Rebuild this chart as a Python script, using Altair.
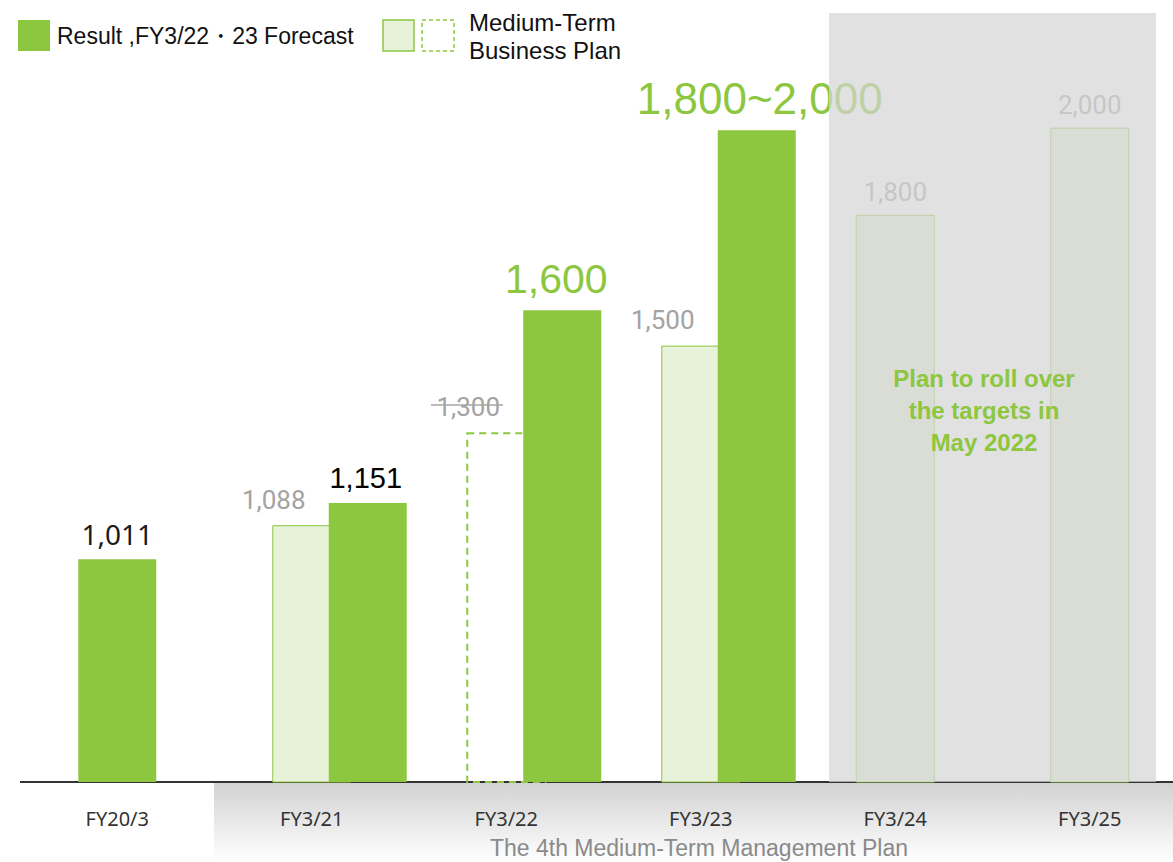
import altair as alt
import pandas as pd

# ---- data ----
categories = ["FY20/3", "FY3/21", "FY3/22", "FY3/23", "FY3/24", "FY3/25"]

result_cats = ["FY20/3", "FY3/21", "FY3/22", "FY3/23"]
result_values = [1011, 1140, 1582, 1995]
result_labels = ["1,011", "1,151", "1,600", "1,800~2,000"]

plan_cats = ["FY3/21", "FY3/22", "FY3/23", "FY3/24", "FY3/25"]
plan_values = [1088, 1300, 1500, 1800, 2000]
plan_labels = ["1,088", "1,300", "1,500", "1,800", "2,000"]
plan_kind = ["paired", "dashed", "paired", "alone", "alone"]

res = pd.DataFrame({"cat": result_cats, "v": result_values, "label": result_labels})
plan = pd.DataFrame({"cat": plan_cats, "v": plan_values, "label": plan_labels, "kind": plan_kind})

GREEN = "#8dc63f"
LIGHT = "#e8f2d9"
GRAY_TXT = "#a3a3a3"

xscale = alt.Scale(domain=categories, range=[20, 1187], paddingInner=0, paddingOuter=0)
X = alt.X("cat:N", sort=categories, scale=xscale,
          axis=alt.Axis(title=None, ticks=False, tickSize=0, labelAngle=0,
                        labelFont="Noto Sans", labelFontSize=20, labelColor="#333333",
                        labelBaseline="alphabetic", labelPadding=43,
                        domain=False, grid=False, zindex=1))
yscale = alt.Scale(domain=[500, 2294], zero=False, nice=False)
Y = alt.Y("v:Q", scale=yscale, axis=None)
Y2 = alt.datum(500)

one = alt.Data(values=[{}])

# bottom gradient band
band = alt.Chart(one).mark_rect(
    fill=alt.LinearGradient(gradient="linear",
                            stops=[alt.GradientStop(color="#d2d2d2", offset=0),
                                   alt.GradientStop(color="#ffffff", offset=1)],
                            x1=0, x2=0, y1=0, y2=1)
).encode(x=alt.value(214), x2=alt.value(1173), y=alt.value(783), y2=alt.value(862))

baseline = alt.Chart(one).mark_rule(color="#333333", strokeWidth=2).encode(
    x=alt.value(20), x2=alt.value(1173), y=alt.value(782))

base_plan = alt.Chart(plan)
plan_solid = base_plan.transform_filter("datum.kind != 'dashed'").mark_bar(
    size=78, fill=LIGHT, stroke=GREEN, strokeWidth=1
).encode(x=X, y=Y, y2=Y2)
plan_dash = base_plan.transform_filter("datum.kind == 'dashed'").mark_bar(
    size=78, fill="white", fillOpacity=0, stroke=GREEN, strokeWidth=2, strokeDash=[7, 5]
).encode(x=X, y=Y, y2=Y2)

base_res = alt.Chart(res)
res_first = base_res.transform_filter("datum.cat == 'FY20/3'").mark_bar(
    size=78, color=GREEN).encode(x=X, y=Y, y2=Y2)
res_pair = base_res.transform_filter("datum.cat != 'FY20/3'").mark_bar(
    size=78, color=GREEN, xOffset=56).encode(x=X, y=Y, y2=Y2)

def lab(chart, **kw):
    return chart.mark_text(baseline="alphabetic", align="center", **kw).encode(
        x=X, y=Y, text="label:N")

t1011 = lab(base_res.transform_filter("datum.cat == 'FY20/3'"),
            font="Noto Sans", fontSize=28, color="#1a1a1a", dy=-14)
t1151 = lab(base_res.transform_filter("datum.cat == 'FY3/21'"),
            font="Arial", fontSize=29, color="#000000", dy=-15, dx=54)
t1600 = lab(base_res.transform_filter("datum.cat == 'FY3/22'"),
            font="Arial", fontSize=41, color=GREEN, dy=-17, dx=50)
t2000 = lab(base_res.transform_filter("datum.cat == 'FY3/23'"),
            font="Arial", fontSize=44, color=GREEN, dy=-16, dx=59)

tplan_pair = lab(base_plan.transform_filter("datum.kind != 'alone'"),
                 font="Roboto", fontSize=26, color=GRAY_TXT, dy=-17, dx=-38)
tplan_alone = lab(base_plan.transform_filter("datum.kind == 'alone'"),
                  font="Roboto", fontSize=26, color=GRAY_TXT, dy=-14)

strike = alt.Chart(one).mark_rule(color="#a6a6a6", strokeWidth=1.5).encode(
    x=alt.value(431), x2=alt.value(503), y=alt.value(405))

overlay = alt.Chart(one).mark_rect(fill="#d4d4d4", opacity=0.7).encode(
    x=alt.value(829), x2=alt.value(1156), y=alt.value(13), y2=alt.value(782))

overlay_txt = alt.Chart(one).mark_text(
    font="Arial", fontSize=24, fontWeight="bold", color=GREEN, align="center",
    baseline="alphabetic", lineHeight=32
).encode(x=alt.value(984), y=alt.value(387),
         text=alt.value(["Plan to roll over", "the targets in", "May 2022"]))

# legend
leg_green = alt.Chart(one).mark_rect(fill=GREEN).encode(
    x=alt.value(18), x2=alt.value(50), y=alt.value(20), y2=alt.value(51))
leg_light = alt.Chart(one).mark_rect(fill=LIGHT, stroke=GREEN, strokeWidth=1.5).encode(
    x=alt.value(383), x2=alt.value(414), y=alt.value(20), y2=alt.value(51))
leg_dash = alt.Chart(one).mark_rect(fill="white", stroke=GREEN, strokeWidth=1.5,
                                    strokeDash=[4, 3]).encode(
    x=alt.value(422), x2=alt.value(454), y=alt.value(20), y2=alt.value(51))
leg_t1 = alt.Chart(one).mark_text(font="Arial", fontSize=23, color="#111111",
                                  align="left", baseline="alphabetic").encode(
    x=alt.value(57), y=alt.value(44), text=alt.value("Result ,FY3/22・23 Forecast"))
leg_t2 = alt.Chart(one).mark_text(font="Arial", fontSize=24, color="#111111",
                                  align="left", baseline="alphabetic", lineHeight=28).encode(
    x=alt.value(469), y=alt.value(31), text=alt.value(["Medium-Term", "Business Plan"]))

bottom_txt = alt.Chart(one).mark_text(font="Arial", fontSize=23, color="#8a8a8a",
                                      align="center", baseline="alphabetic").encode(
    x=alt.value(699), y=alt.value(856), text=alt.value("The 4th Medium-Term Management Plan"))

chart = alt.layer(
    band, baseline, plan_solid, plan_dash, res_first, res_pair,
    t1011, t1151, t1600, t2000, tplan_pair, tplan_alone, strike,
    overlay, overlay_txt,
    leg_green, leg_light, leg_dash, leg_t1, leg_t2, bottom_txt
).properties(
    width=1173, height=782,
    autosize=alt.AutoSizeParams(type="none"),
    padding={"left": 0, "top": 0, "right": 0, "bottom": 80},
    background="white"
).configure_view(stroke=None)

chart.save("out.html", embed_options={"renderer": "svg", "actions": False})
